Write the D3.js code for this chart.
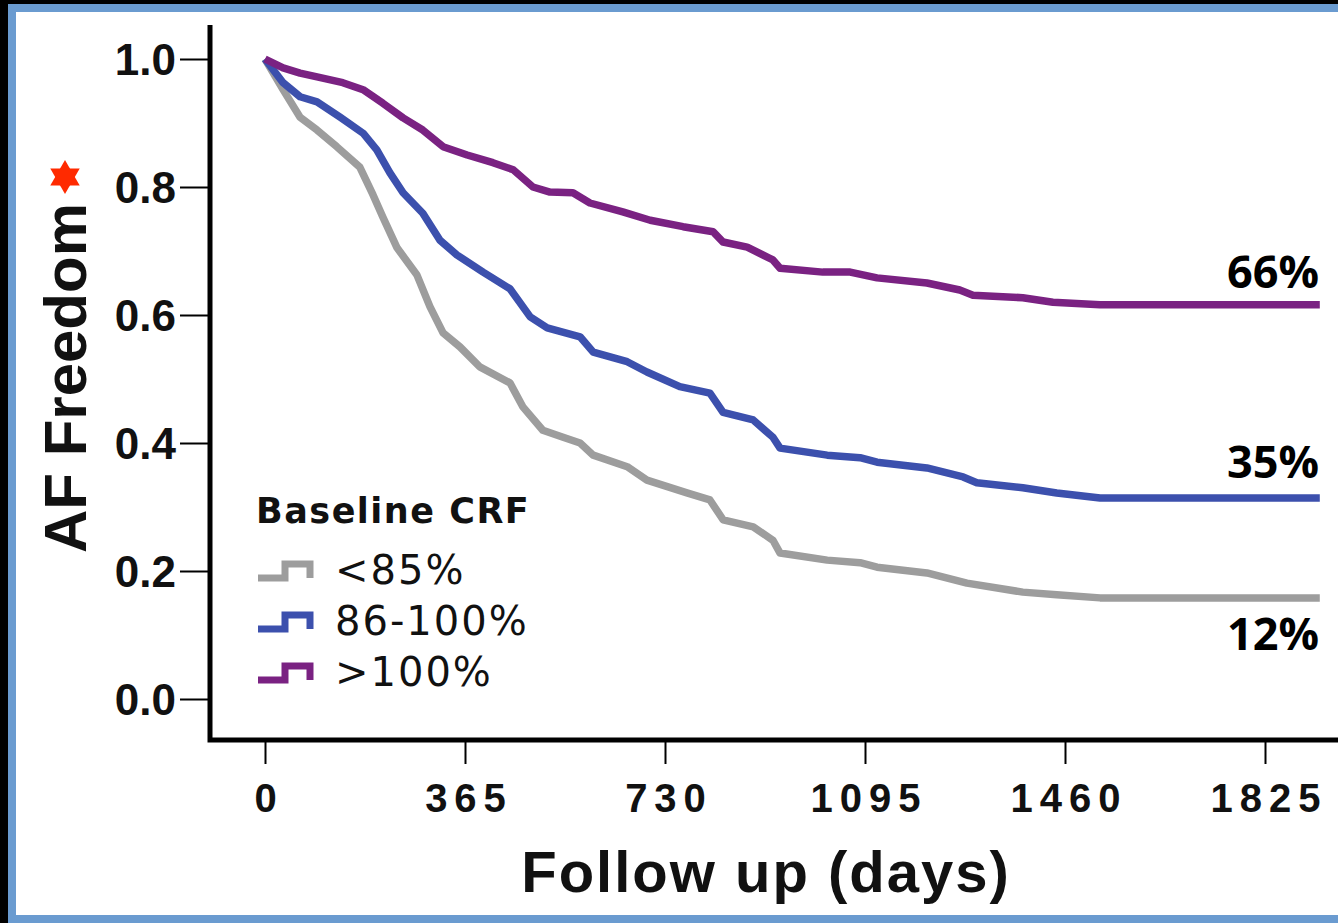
<!DOCTYPE html>
<html>
<head>
<meta charset="utf-8">
<script src="https://cdn.jsdelivr.net/npm/d3@7"></script>
<style>
  html, body { margin: 0; padding: 0; background: #000; }
  svg { display: block; }
</style>
</head>
<body>
<svg id="chart" width="1338" height="923"></svg>
<script>
// Kaplan-Meier style curves, AF freedom by baseline CRF
let seriesNames = ['<85%', '86-100%', '>100%']
let seriesColors = ['#9d9d9d', '#3c50ad', '#7a2282']
let endLabels = ['12%', '35%', '66%']

let xTicks = [0, 365, 730, 1095, 1460, 1825]
let yTicks = [0.0, 0.2, 0.4, 0.6, 0.8, 1.0]

let grayDays = [0, 33, 64, 95, 131, 173, 197, 215, 241, 277, 301, 325, 356, 392, 447, 471, 507, 544, 575, 599, 661, 697, 770, 812, 836, 891, 927, 940, 1026, 1086, 1117, 1208, 1281, 1383, 1445, 1524, 1925]
let grayVals = [1.0, 0.952, 0.909, 0.889, 0.863, 0.831, 0.788, 0.753, 0.705, 0.663, 0.613, 0.572, 0.55, 0.519, 0.494, 0.456, 0.42, 0.409, 0.4, 0.381, 0.363, 0.342, 0.322, 0.311, 0.28, 0.269, 0.248, 0.228, 0.217, 0.213, 0.206, 0.197, 0.181, 0.167, 0.163, 0.158, 0.158]

let blueDays = [0, 33, 64, 95, 137, 179, 204, 228, 252, 288, 319, 350, 398, 447, 484, 515, 575, 599, 661, 697, 757, 812, 836, 891, 927, 940, 1026, 1086, 1117, 1208, 1274, 1299, 1383, 1445, 1524, 1925]
let blueVals = [1.0, 0.963, 0.941, 0.933, 0.909, 0.884, 0.858, 0.822, 0.791, 0.759, 0.717, 0.694, 0.667, 0.641, 0.597, 0.58, 0.566, 0.542, 0.527, 0.511, 0.488, 0.478, 0.448, 0.436, 0.409, 0.392, 0.381, 0.377, 0.37, 0.361, 0.347, 0.338, 0.33, 0.322, 0.314, 0.314]

let purpleDays = [0, 33, 64, 95, 142, 179, 215, 252, 288, 325, 369, 416, 453, 489, 520, 562, 593, 653, 703, 763, 818, 836, 880, 927, 940, 1018, 1068, 1117, 1208, 1268, 1292, 1383, 1438, 1524, 1925]
let purpleVals = [1.0, 0.986, 0.978, 0.972, 0.963, 0.952, 0.931, 0.908, 0.889, 0.863, 0.85, 0.838, 0.827, 0.8, 0.792, 0.791, 0.775, 0.761, 0.748, 0.738, 0.73, 0.714, 0.706, 0.686, 0.673, 0.667, 0.667, 0.658, 0.65, 0.639, 0.631, 0.627, 0.62, 0.616, 0.616]

let allDays = [grayDays, blueDays, purpleDays]
let allVals = [grayVals, blueVals, purpleVals]

let svg = d3.select('#chart')

// frame
svg.append('rect')
    .attr('x', 12).attr('y', 8)
    .attr('width', 1400).attr('height', 911)
    .attr('fill', '#fff')
    .attr('stroke', '#6a9bd0')
    .attr('stroke-width', 8)

let x = d3.scaleLinear().domain([0, 1825]).range([265, 1265])
let y = d3.scaleLinear().domain([0, 1]).range([699, 59])

// y axis
let yAxis = svg.append('g')
    .attr('transform', 'translate(210,0)')
    .call(d3.axisLeft(y).tickValues(yTicks).tickFormat(d3.format('.1f')).tickSize(30).tickPadding(4))
yAxis.select('.domain').remove()
yAxis.selectAll('line').attr('stroke', '#000').attr('stroke-width', 2)
yAxis.selectAll('text')
    .attr('fill', '#111')
    .style('font-family', '"Liberation Sans", Arial, sans-serif')
    .style('font-weight', 'bold')
    .style('font-size', '44px')
    .attr('dy', '0.36em')

// x axis
let xAxis = svg.append('g')
    .attr('transform', 'translate(0,740)')
    .call(d3.axisBottom(x).tickValues(xTicks).tickFormat(d3.format('d')).tickSize(24).tickPadding(4))
xAxis.select('.domain').remove()
xAxis.selectAll('line').attr('stroke', '#000').attr('stroke-width', 2)
xAxis.selectAll('text')
    .attr('fill', '#111')
    .attr('y', 72)
    .attr('dy', null)
    .style('font-family', '"Liberation Sans", Arial, sans-serif')
    .style('font-weight', 'bold')
    .style('font-size', '40px')
    .style('letter-spacing', '7px')
    .attr('dx', '3.5px')

// axis spines
svg.append('path')
    .attr('d', 'M210,25 V740 H1338')
    .attr('fill', 'none')
    .attr('stroke', '#000')
    .attr('stroke-width', 5)

// curves
let line = d3.line()
    .x((d) => x(d[0]))
    .y((d) => y(d[1]))
    .curve(d3.curveLinear)

for (let i = 0; i < 3; i++) {
    let pts = allDays[i].map((d, j) => [d, allVals[i][j]])
    svg.append('path')
        .attr('d', line(pts))
        .attr('fill', 'none')
        .attr('stroke', seriesColors[i])
        .attr('stroke-width', 7.5)
        .attr('stroke-linejoin', 'round')
}

// end labels
let endY = [650, 478, 288]
endLabels.forEach((t, i) => {
    svg.append('text')
        .attr('x', 1319)
        .attr('y', endY[i])
        .attr('text-anchor', 'end')
        .style('font-family', '"Open Sans", sans-serif')
        .style('font-weight', 'bold')
        .style('font-size', '45px')
        .attr('fill', '#000')
        .text(t)
})

// legend
svg.append('text')
    .attr('x', 256).attr('y', 523)
    .style('font-family', '"DejaVu Sans", sans-serif')
    .style('font-weight', 'bold')
    .style('font-size', '35px')
    .style('letter-spacing', '1.5px')
    .attr('fill', '#111')
    .text('Baseline CRF')

seriesNames.forEach((name, i) => {
    let cy = 578 + i * 51
    svg.append('path')
        .attr('d', 'M258,' + cy + ' H285 V' + (cy - 14) + ' H310 V' + cy)
        .attr('fill', 'none')
        .attr('stroke', seriesColors[i])
        .attr('stroke-width', 7)
    svg.append('text')
        .attr('x', 335).attr('y', cy + 6)
        .style('font-family', '"DejaVu Sans", sans-serif')
        .style('font-size', '40px')
        .style('letter-spacing', '2px')
        .attr('fill', '#111')
        .text(name)
})

// axis titles
svg.append('text')
    .attr('transform', 'translate(86,378) rotate(-90)')
    .attr('text-anchor', 'middle')
    .style('font-family', '"Liberation Sans", Arial, sans-serif')
    .style('font-weight', 'bold')
    .style('font-size', '60px')
    .attr('fill', '#111')
    .text('AF Freedom')

svg.append('text')
    .attr('x', 766).attr('y', 892)
    .attr('text-anchor', 'middle')
    .style('font-family', '"Liberation Sans", Arial, sans-serif')
    .style('font-weight', 'bold')
    .style('font-size', '58px')
    .style('letter-spacing', '2px')
    .attr('fill', '#111')
    .text('Follow up (days)')

// red six-pointed star
let starR = 17
let starPts = (rot) => d3.range(3).map((k) => {
    let a = rot + k * 2 * Math.PI / 3
    return [65 + starR * Math.sin(a), 177 - starR * Math.cos(a)]
})
;[0, Math.PI].forEach((rot) => {
    svg.append('polygon')
        .attr('points', starPts(rot).map((p) => p.join(',')).join(' '))
        .attr('fill', '#ff2a00')
})
</script>
</body>
</html>
